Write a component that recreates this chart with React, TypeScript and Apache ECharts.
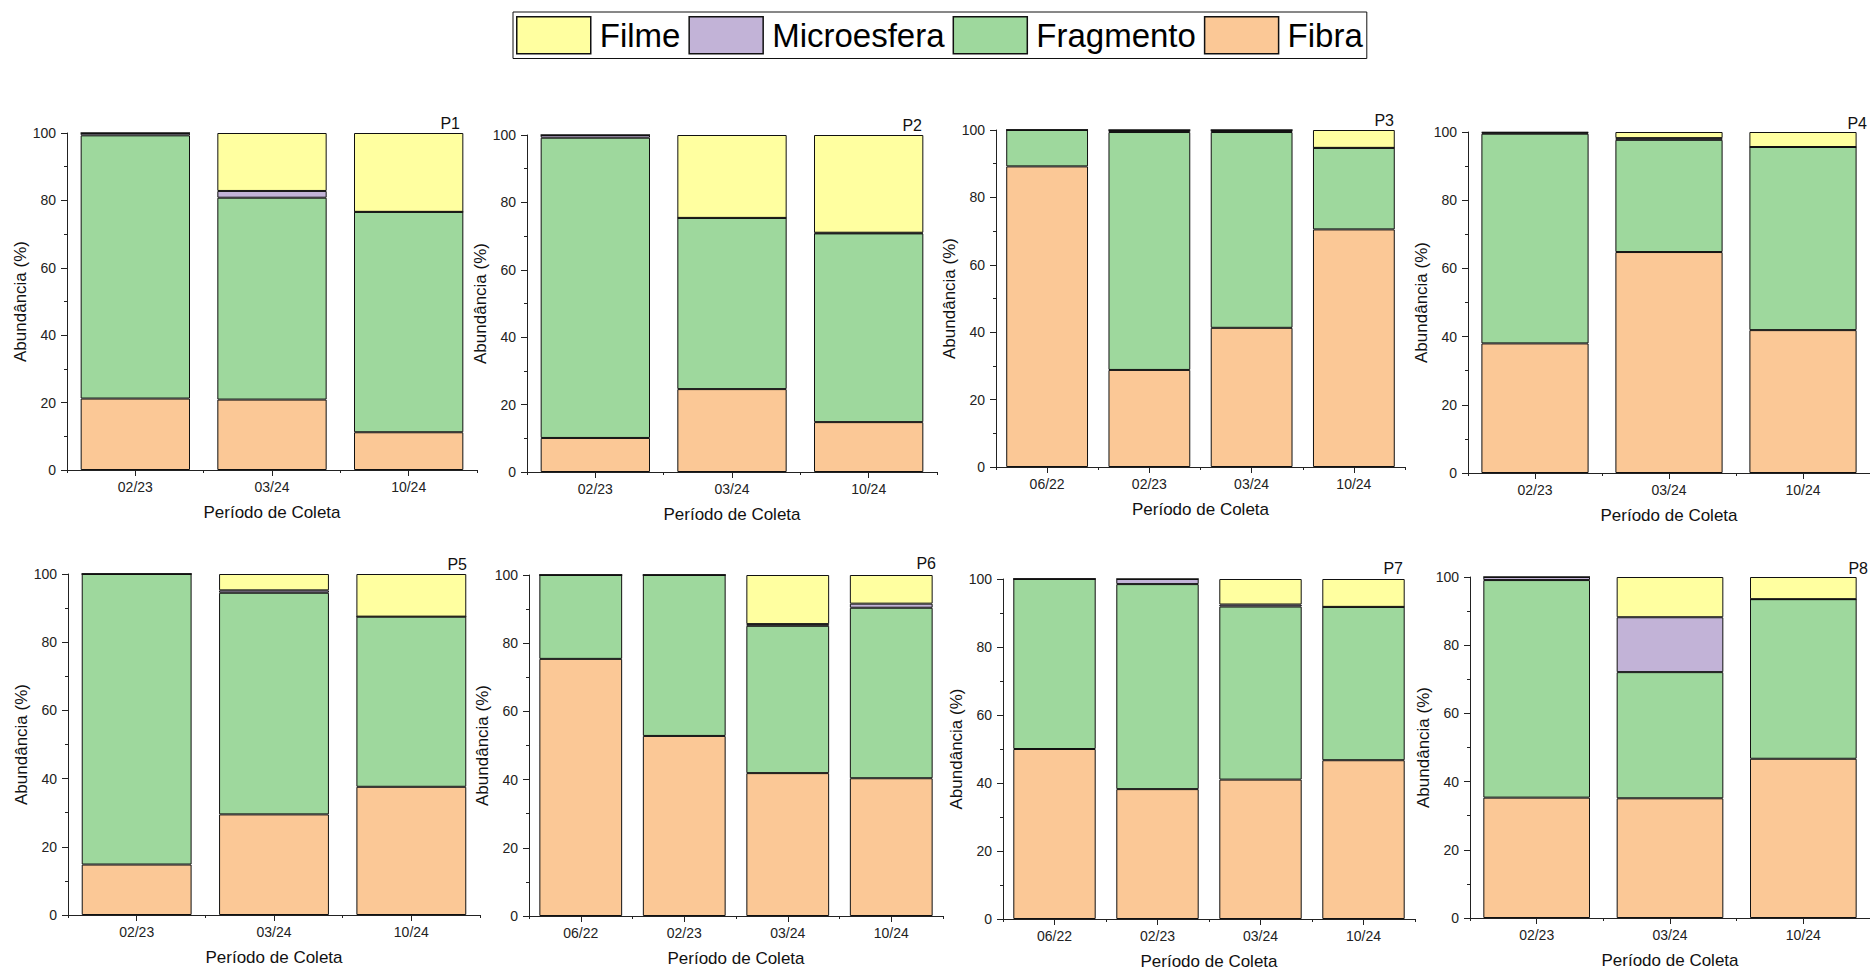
import React, { useEffect, useRef } from "react";
import * as echarts from "echarts";

const seriesNames = ["Fibra", "Fragmento", "Microesfera", "Filme"];
const legendOrder = ["Filme", "Microesfera", "Fragmento", "Fibra"];
const colors: Record<string, string> = {
  Fibra: "#FBC896",
  Fragmento: "#9ED89D",
  Microesfera: "#C2B3D7",
  Filme: "#FFFFA0",
};

const cats3 = ["02/23", "03/24", "10/24"];
const cats4 = ["06/22", "02/23", "03/24", "10/24"];
const yTicks = [0, 20, 40, 60, 80, 100];

const panelNames = ["P1", "P2", "P3", "P4", "P5", "P6", "P7", "P8"];
const panelCats = [cats3, cats3, cats4, cats3, cats3, cats4, cats4, cats3];

const fibra = [
  [21.2, 20.9, 11.2],
  [10.1, 24.6, 14.8],
  [89.2, 28.8, 41.3, 70.5],
  [38.0, 64.8, 41.9],
  [14.8, 29.5, 37.6],
  [75.4, 52.8, 41.9, 40.4],
  [50.0, 38.2, 41.0, 46.7],
  [35.3, 35.1, 46.7],
];
const fragmento = [
  [78.1, 59.9, 65.4],
  [89.1, 50.8, 56.0],
  [10.8, 70.6, 58.1, 24.2],
  [61.5, 32.9, 53.7],
  [85.2, 65.0, 49.9],
  [24.6, 47.2, 43.2, 50.0],
  [50.0, 60.3, 50.9, 45.1],
  [63.8, 37.0, 46.8],
];
const microesfera = [
  [0.7, 2.0, 0],
  [0.8, 0, 0.2],
  [0, 0.6, 0.6, 0],
  [0.3, 0.5, 0],
  [0, 0.7, 0],
  [0, 0, 0.5, 1.2],
  [0, 1.5, 0.6, 0],
  [0.9, 16.1, 0],
];
const filme = [
  [0, 17.2, 23.4],
  [0, 24.6, 29.0],
  [0, 0, 0, 5.3],
  [0.2, 1.8, 4.4],
  [0, 4.8, 12.5],
  [0, 0, 14.4, 8.4],
  [0, 0, 7.5, 8.2],
  [0, 11.8, 6.5],
];

// layout (px) for each panel grid
const grids = [
  { left: 67, top: 133, width: 410, height: 337 },
  { left: 527, top: 135, width: 410, height: 337 },
  { left: 996, top: 130, width: 409, height: 337 },
  { left: 1468, top: 132, width: 412, height: 341 },
  { left: 68, top: 574, width: 412, height: 341 },
  { left: 529, top: 575, width: 414, height: 341 },
  { left: 1003, top: 579, width: 412, height: 340 },
  { left: 1470, top: 577, width: 414, height: 341 },
];
const labelPos = [
  [460, 131], [922, 133], [1394, 128], [1867, 131],
  [467, 572], [936, 571], [1403, 576], [1868, 576],
];

const FONT = "'Liberation Sans', Arial, sans-serif";

export default function App() {
  const ref = useRef<HTMLDivElement>(null);
  useEffect(() => {
    if (!ref.current) return;
    const chart = echarts.init(ref.current, null, { renderer: "svg" });
    const dataBy: Record<string, number[][]> = {
      Fibra: fibra,
      Fragmento: fragmento,
      Microesfera: microesfera,
      Filme: filme,
    };
    const xAxis: any[] = [];
    const yAxis: any[] = [];
    const series: any[] = [];
    grids.forEach((g, i) => {
      xAxis.push({
        type: "category",
        gridIndex: i,
        data: panelCats[i],
        position: "bottom",
        name: "Período de Coleta",
        nameLocation: "middle",
        nameGap: 34,
        nameTextStyle: { fontSize: 17, color: "#111", fontFamily: FONT },
        axisLine: { show: true, lineStyle: { color: "#222", width: 1 } },
        axisTick: { show: true, alignWithLabel: true, length: 6, lineStyle: { color: "#222" } },
        axisLabel: { fontSize: 14, color: "#222", margin: 10, fontFamily: FONT },
        splitLine: { show: false },
      });
      xAxis.push({
        type: "category",
        gridIndex: i,
        data: panelCats[i],
        position: "bottom",
        axisLine: { show: false },
        axisTick: { show: true, length: 3, lineStyle: { color: "#222" } },
        axisLabel: { show: false },
        splitLine: { show: false },
      });
      yAxis.push({
        type: "value",
        gridIndex: i,
        min: yTicks[0],
        max: yTicks[yTicks.length - 1],
        interval: 20,
        name: "Abundância (%)",
        nameLocation: "middle",
        nameGap: 37,
        nameTextStyle: { fontSize: 17, color: "#111", fontFamily: FONT },
        axisLine: { show: true, lineStyle: { color: "#222", width: 1 } },
        axisTick: { show: true, length: 6, lineStyle: { color: "#222" } },
        minorTick: { show: true, splitNumber: 2, length: 3, lineStyle: { color: "#222" } },
        axisLabel: { fontSize: 14, color: "#222", margin: 11, fontFamily: FONT },
        splitLine: { show: false },
      });
      seriesNames.forEach((name) => {
        series.push({
          type: "bar",
          name,
          stack: "p" + i,
          xAxisIndex: i * 2,
          yAxisIndex: i,
          barCategoryGap: "20%",
          data: dataBy[name][i],
          itemStyle: { color: colors[name], borderColor: "#111", borderWidth: 1 },
          emphasis: { disabled: true },
        });
      });
    });
    const graphic = panelNames.map((t, i) => ({
      type: "text",
      x: labelPos[i][0],
      y: labelPos[i][1],
      style: {
        text: t,
        fontSize: 16,
        fontFamily: FONT,
        fill: "#111",
        textAlign: "right",
        textVerticalAlign: "bottom",
      },
    }));
    chart.setOption({
      animation: false,
      backgroundColor: "#fff",
      grid: grids.map((g) => ({ ...g, containLabel: false })),
      xAxis,
      yAxis,
      series,
      graphic,
      legend: {
        data: legendOrder,
        left: 513,
        top: 12,
        orient: "horizontal",
        icon: "rect",
        itemWidth: 74,
        itemHeight: 37,
        itemGap: 8,
        padding: [4, 4, 4, 3],
        borderColor: "#111",
        borderWidth: 1,
        selectedMode: false,
        itemStyle: { borderColor: "#111", borderWidth: 1.5 },
        textStyle: {
          fontSize: 33,
          color: "#000",
          fontFamily: FONT,
          padding: [0, 0, 0, 4],
        },
      },
    });
    return () => chart.dispose();
  }, []);
  return (
    <div
      ref={ref}
      style={{ position: "fixed", left: 0, top: 0, width: 1870, height: 973, background: "#fff" }}
    />
  );
}
